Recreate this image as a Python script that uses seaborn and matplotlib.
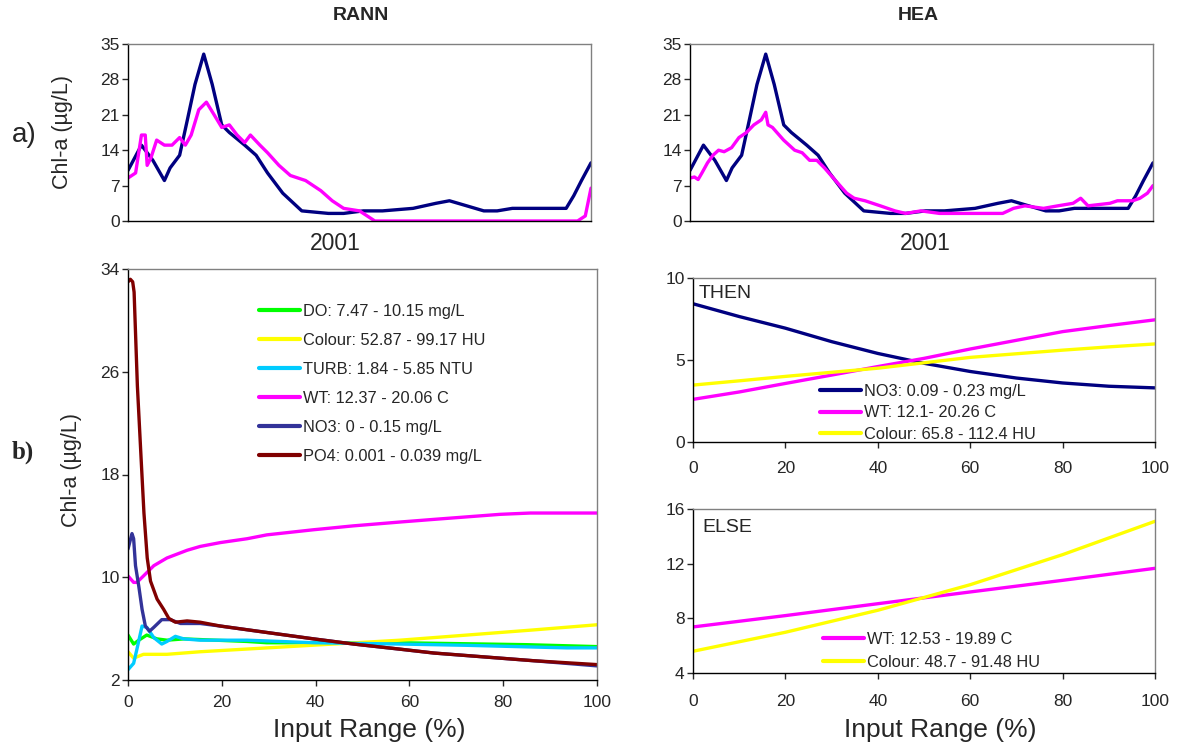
import matplotlib
matplotlib.use("Agg")
import matplotlib.pyplot as plt
import seaborn as sns
import pandas as pd
from matplotlib.lines import Line2D

# ---------------- data ----------------
# a) time series (day of year 2001)
obs_day = [0, 10.6, 19.6, 28.7, 33.2, 40.7, 46.8, 52.8, 59.7, 66.4, 73.9, 79.9, 92, 101, 110, 122,
           137, 158, 170, 185.5, 200.6, 224.7, 242.8, 253.4, 267, 280.5, 291, 303, 321, 345.4,
           351.4, 357.5, 365]
obs_val = [10, 15, 12, 8, 10.5, 13, 20, 27, 33, 27, 19, 17.5, 15, 13, 9.5, 5.5,
           2, 1.5, 1.5, 2, 2, 2.5, 3.5, 4, 3, 2, 2, 2.5, 2.5, 2.5,
           5, 8, 11.5]

rann_day = [0, 3, 6, 10.6, 13.6, 15.1, 18.1, 22.6, 28.7, 34.7, 40.7, 45.2, 49.8, 55.8, 61.8, 67.9,
            73.9, 79.9, 86, 92, 96.5, 104, 110, 119, 128, 140, 152, 161, 170, 182.5, 194.6,
            354.4, 360.5, 365]
rann_val = [8.5, 9, 9.5, 17, 17, 11, 12.5, 16, 15, 15, 16.5, 15, 17, 22, 23.5, 21,
            18.5, 19, 17, 15.5, 17, 15, 13.5, 11, 9, 8, 6, 4, 2.5, 2, 0,
            0, 1, 6.5]

hea_day = [0, 3.5, 6.4, 9.4, 13.8, 18.1, 22.5, 26.9, 32.8, 38.6, 44.5, 50.3, 56.2, 59.7, 61.5, 65,
           73.8, 82.5, 88.4, 94.3, 100, 106, 114.7, 123.5, 129.4, 138, 150, 161.6, 170, 182,
           196.7, 220, 246.5, 255, 264, 278.7, 290, 302, 308, 313.8, 331, 337, 349, 354.7,
           360.6, 365]
hea_val = [8.5, 8.7, 8.2, 9.5, 11.5, 13, 14, 13.7, 14.5, 16.5, 17.5, 19, 20, 21.5, 19, 18.5,
           16, 14, 13.5, 12, 12, 10.5, 8, 5.5, 4.5, 4, 3, 2, 1.5, 2,
           1.5, 1.5, 1.5, 2.5, 3, 2.5, 3, 3.5, 4.5, 3, 3.5, 4, 4, 4.5,
           5.5, 7]

# b) RANN sensitivity curves (input range %)
do_x = [0, 1.2, 2.3, 4, 6.2, 8.3, 11.9, 25.4, 29.6, 58, 85, 100]
do_y = [5.5, 4.8, 5.1, 5.5, 5.2, 5.1, 5.2, 5.0, 4.9, 4.9, 4.75, 4.6]

col_x = [0, 1.2, 3.3, 8.3, 15.4, 29.6, 43.8, 58, 72.3, 86.5, 100]
col_y = [4.2, 3.7, 4.0, 4.0, 4.2, 4.5, 4.8, 5.1, 5.5, 5.9, 6.3]

turb_x = [0, 1.2, 1.9, 3, 4, 5.5, 7.2, 8.3, 10.1, 11.9, 15.4, 25.4, 39.6, 58, 72.3, 93.6, 100]
turb_y = [2.8, 3.3, 4.4, 6.2, 6.1, 5.3, 4.8, 5.0, 5.4, 5.2, 5.1, 5.1, 4.9, 4.8, 4.7, 4.5, 4.5]

wt_x = [0, 1.2, 1.9, 3.3, 5.5, 8.3, 12.6, 15.4, 19.7, 25.4, 29.6, 39.6, 48, 58, 65, 79.4, 85.8, 100]
wt_y = [10.1, 9.6, 9.6, 10.1, 10.9, 11.5, 12.1, 12.4, 12.7, 13.0, 13.3, 13.7, 14.0, 14.3, 14.5,
        14.9, 15.0, 15.0]

no3_x = [0, 0.85, 1.2, 1.6, 2.3, 3, 3.7, 4.6, 5.5, 7.2, 9, 11.2, 15.4, 19.7, 29.6, 39.6, 48.1,
         58, 65.2, 79.4, 86.5, 100]
no3_y = [12.2, 13.4, 13.0, 10.9, 9.3, 7.5, 6.2, 5.8, 6.1, 6.7, 6.7, 6.4, 6.4, 6.2, 5.7, 5.2, 4.8,
         4.4, 4.1, 3.7, 3.5, 3.1]

po4_x = [0, 0.5, 1.0, 1.3, 2.0, 2.8, 3.4, 4.1, 4.8, 6.2, 7.6, 8.7, 10.1, 12.6, 15.4, 19.7, 29.6,
         39.6, 48.1, 58, 65.2, 79.4, 86.5, 100]
po4_y = [33.0, 33.2, 33.0, 32.2, 24.9, 19.2, 15.0, 11.5, 9.7, 8.3, 7.5, 6.8, 6.5, 6.6, 6.5, 6.2,
         5.7, 5.2, 4.8, 4.4, 4.1, 3.7, 3.5, 3.2]

# HEA THEN branch
then_x = [0, 10, 20, 30, 40, 50, 60, 70, 80, 90, 100]
then_no3 = [8.43, 7.65, 6.94, 6.12, 5.4, 4.8, 4.3, 3.9, 3.6, 3.4, 3.3]
then_wt = [2.6, 3.05, 3.57, 4.08, 4.6, 5.1, 5.67, 6.2, 6.73, 7.1, 7.45]
then_col = [3.47, 3.73, 4.0, 4.25, 4.5, 4.83, 5.16, 5.38, 5.6, 5.8, 5.98]

# HEA ELSE branch
else_x = [0, 20, 40, 60, 80, 100]
else_wt = [7.37, 8.2, 9.07, 9.93, 10.78, 11.66]
else_col = [5.59, 6.98, 8.59, 10.46, 12.66, 15.1]

labels_b = ["DO: 7.47 - 10.15 mg/L", "Colour: 52.87 - 99.17 HU", "TURB: 1.84 - 5.85 NTU",
            "WT: 12.37 - 20.06 C", "NO3: 0 - 0.15 mg/L", "PO4: 0.001 - 0.039 mg/L"]
labels_then = ["NO3: 0.09 - 0.23 mg/L", "WT: 12.1- 20.26 C", "Colour: 65.8 - 112.4 HU"]
labels_else = ["WT: 12.53 - 19.89 C", "Colour: 48.7 - 91.48 HU"]

# ---------------- style ----------------
sns.set_style("white")
FONT = ["Liberation Sans", "DejaVu Sans"]
plt.rcParams["font.family"] = FONT

NAVY = "#000080"
MAG = "#FF00FF"
GREEN = "#00FF00"
YEL = "#FFFF00"
CYAN = "#00CCFF"
SLATE = "#333399"
MAROON = "#800000"
LW = 2.4

W, H = 1180, 746
fig = plt.figure(figsize=(11.8, 7.46), dpi=100)


def axes_px(l, r, t, b):
    return fig.add_axes([l / W, 1 - b / H, (r - l) / W, (b - t) / H])


def style_ax(ax, xticks=True, xpad=3):
    for s in ["top", "right"]:
        ax.spines[s].set_color("#808080")
        ax.spines[s].set_linewidth(1.0)
    for s in ["left", "bottom"]:
        ax.spines[s].set_color("black")
        ax.spines[s].set_linewidth(1.0)
    ax.tick_params(axis="y", left=True, direction="out", length=4, width=1, labelsize=12.5, pad=2)
    ax.tick_params(axis="x", bottom=xticks, direction="out", length=4, width=1, labelsize=12.5, pad=xpad)
    ax.grid(False)


def line(ax, x, y, color, lw=LW):
    sns.lineplot(x=x, y=y, color=color, lw=lw, ax=ax, estimator=None, sort=False)


def place_xlabel(ax, text, x_ax, y_ax, size):
    ax.set_xlabel(text, fontsize=size)
    ax.xaxis.set_label_coords(x_ax, y_ax)
    ax.xaxis.label.set_va("center")


def place_ylabel(ax, text, x_ax, y_ax, size):
    ax.set_ylabel(text, fontsize=size)
    ax.yaxis.set_label_coords(x_ax, y_ax)
    ax.yaxis.label.set_va("center")


# ---- a) RANN ----
ax1 = axes_px(128, 591, 44, 221)
line(ax1, obs_day, obs_val, NAVY)
line(ax1, rann_day, rann_val, MAG)
ax1.set_xlim(0, 365)
ax1.set_ylim(0, 35)
ax1.set_yticks([0, 7, 14, 21, 28, 35])
ax1.set_xticks([])
style_ax(ax1, xticks=False)
place_xlabel(ax1, "2001", (335 - 128) / 463, (221 - 243) / 177, 16.5)
place_ylabel(ax1, "Chl-a (µg/L)", (62 - 128) / 463, (221 - 132) / 177, 15.5)
ax1.text((361 - 128) / 463, (221 - 15) / 177, "RANN", transform=ax1.transAxes, fontsize=14,
         fontweight="bold", ha="center", va="center")

# ---- a) HEA ----
ax2 = axes_px(690, 1153, 44, 221)
line(ax2, obs_day, obs_val, NAVY)
line(ax2, hea_day, hea_val, MAG)
ax2.set_xlim(0, 365)
ax2.set_ylim(0, 35)
ax2.set_yticks([0, 7, 14, 21, 28, 35])
ax2.set_xticks([])
style_ax(ax2, xticks=False)
place_xlabel(ax2, "2001", (925 - 690) / 463, (221 - 243) / 177, 16.5)
ax2.set_ylabel("")
ax2.text((918 - 690) / 463, (221 - 15) / 177, "HEA", transform=ax2.transAxes, fontsize=14,
         fontweight="bold", ha="center", va="center")

# ---- b) RANN sensitivity ----
ax3 = axes_px(128, 597, 269, 680)
series_b = [(do_x, do_y, GREEN), (col_x, col_y, YEL), (turb_x, turb_y, CYAN),
            (wt_x, wt_y, MAG), (no3_x, no3_y, SLATE), (po4_x, po4_y, MAROON)]
for x, y, c in series_b:
    line(ax3, x, y, c)
ax3.set_xlim(0, 100)
ax3.set_ylim(2, 34)
ax3.set_yticks([2, 10, 18, 26, 34])
ax3.set_xticks([0, 20, 40, 60, 80, 100])
style_ax(ax3, xpad=6.5)
place_xlabel(ax3, "Input Range (%)", (369 - 128) / 469, (680 - 730) / 411, 19)
place_ylabel(ax3, "Chl-a (µg/L)", (72 - 128) / 469, (680 - 470) / 411, 15.5)
hb = [Line2D([], [], color=c, lw=3) for _, _, c in series_b]
ax3.legend(hb, labels_b, loc="upper left", bbox_to_anchor=(0.279, 0.915), frameon=False,
           fontsize=11.8, handlelength=2.5, handletextpad=0.2, labelspacing=0.85,
           borderpad=0, borderaxespad=0)

# ---- THEN ----
ax4 = axes_px(693, 1155, 278, 442)
line(ax4, then_x, then_no3, NAVY)
line(ax4, then_x, then_wt, MAG)
line(ax4, then_x, then_col, YEL)
ax4.set_xlim(0, 100)
ax4.set_ylim(0, 10)
ax4.set_yticks([0, 5, 10])
ax4.set_xticks([0, 20, 40, 60, 80, 100])
style_ax(ax4, xpad=10)
ax4.set_xlabel("")
ax4.set_ylabel("")
ax4.text(0.012, 0.96, "THEN", transform=ax4.transAxes, fontsize=14, va="top", ha="left")
h4 = [Line2D([], [], color=c, lw=3) for c in (NAVY, MAG, YEL)]
ax4.legend(h4, labels_then, loc="upper left", bbox_to_anchor=(0.275, 0.355), frameon=False,
           fontsize=11.8, handlelength=2.5, handletextpad=0.2, labelspacing=0.4,
           borderpad=0, borderaxespad=0)

# ---- ELSE ----
ax5 = axes_px(693, 1155, 509, 673)
line(ax5, else_x, else_wt, MAG)
line(ax5, else_x, else_col, YEL)
ax5.set_xlim(0, 100)
ax5.set_ylim(4, 16)
ax5.set_yticks([4, 8, 12, 16])
ax5.set_xticks([0, 20, 40, 60, 80, 100])
style_ax(ax5, xpad=11)
place_xlabel(ax5, "Input Range (%)", (940 - 693) / 462, (673 - 730) / 164, 19)
ax5.set_ylabel("")
ax5.text(0.02, 0.94, "ELSE", transform=ax5.transAxes, fontsize=14, va="top", ha="left")
h5 = [Line2D([], [], color=c, lw=3) for c in (MAG, YEL)]
ax5.legend(h5, labels_else, loc="upper left", bbox_to_anchor=(0.281, 0.25), frameon=False,
           fontsize=11.8, handlelength=2.5, handletextpad=0.2, labelspacing=0.5,
           borderpad=0, borderaxespad=0)

# panel letters
fig.text(12 / W, 1 - 135 / H, "a)", fontsize=20, va="center", ha="left")
fig.text(12 / W, 1 - 452 / H, "b)", fontsize=18, fontweight="bold",
         family=["Liberation Serif", "DejaVu Serif"], va="center", ha="left")

fig.savefig("out.png", dpi=100)
